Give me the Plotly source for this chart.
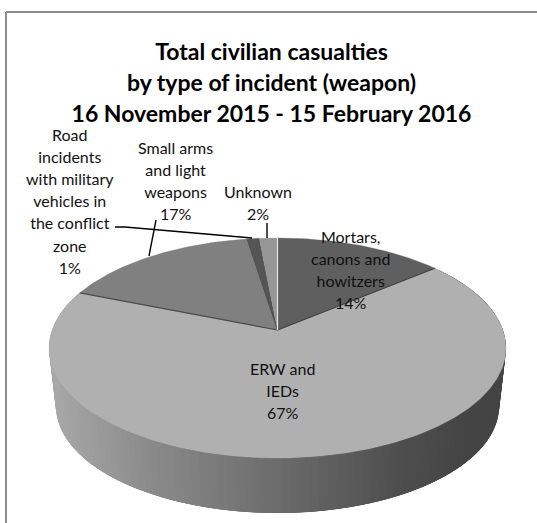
import math
import plotly.graph_objects as go

# ---- data (clockwise from 12 o'clock) ----
categories = ["Mortars, canons and howitzers", "ERW and IEDs", "Small arms and light weapons",
              "Road incidents with military vehicles in the conflict zone", "Unknown"]
values = [14.0, 67.0, 16.5, 1.0, 1.5]
percent_labels = ["14%", "67%", "17%", "1%", "2%"]
label_lines = [["Mortars,", "canons and", "howitzers"], ["ERW and", "IEDs"], ["Small arms", "and light", "weapons"],
               ["Road", "incidents", "with military", "vehicles in", "the conflict", "zone"], ["Unknown"]]
title_lines = ["Total civilian casualties", "by type of incident (weapon)", "16 November 2015 - 15 February 2016"]

# ---- styling and projection ----
top_colors = ["#5f5f5f", "#b0b0b0", "#808080", "#555555", "#969696"]
label_pos = [(350, 269), (282, 390), (175, 180), (70, 201), (258, 202)]
FONT = "Lato"
CX, CB, CA, CC, R = 277.5, 330.0, -53.1, 0.1636, 225.4
SCALE_B, Y_B = 0.97, 388.8


def project(theta_deg, r=1.0, bottom=False):
    t = math.radians(theta_deg)
    u, v = r * math.sin(t), r * math.cos(t)
    d = 1 + CC * v
    x, y = R * u / d, (CA * v + CB) / d
    if bottom:
        return CX + SCALE_B * x, Y_B + SCALE_B * (y - CB)
    return CX + x, y


def side_color(x):
    stops = [(51, 168), (150, 138), (277, 108), (400, 78), (470, 68), (510, 68)]
    for (x0, g0), (x1, g1) in zip(stops, stops[1:]):
        if x <= x1:
            g = round(g0 + (g1 - g0) * max(0, x - x0) / (x1 - x0))
            return f"rgb({g},{g},{g})"
    return "rgb(68,68,68)"


total = sum(values)
edges = [0.0]
for val in values:
    edges.append(edges[-1] + 360.0 * val / total)

fig = go.Figure()


def poly(xs, ys, color, lw=0.0):
    fig.add_trace(go.Scatter(x=xs, y=ys, mode="lines", fill="toself", fillcolor=color,
                             line=dict(color=color, width=lw), hoverinfo="skip", showlegend=False))


def seg(pts, color, w):
    fig.add_trace(go.Scatter(x=[p[0] for p in pts], y=[p[1] for p in pts], mode="lines",
                             line=dict(color=color, width=w), hoverinfo="skip", showlegend=False))


# outer wall of the large slice, as overlapping strips painted over each other for the gradient
a0, a1 = edges[1], edges[2]
n = 120
for i in range(n):
    t0, t1 = a0 + (a1 - a0) * i / n, a0 + (a1 - a0) * min(n, i + 4) / n
    tm = a0 + (a1 - a0) * (i + 0.5) / n
    p = [project(t0), project(tm), project(t1), project(t1, bottom=True), project(tm, bottom=True), project(t0, bottom=True)]
    poly([q[0] for q in p], [q[1] for q in p], side_color(project(tm)[0]), 0)

# top faces
for i in range(len(values)):
    steps = max(2, int(edges[i + 1] - edges[i]) * 2)
    arc = [project(edges[i] + (edges[i + 1] - edges[i]) * k / steps) for k in range(steps + 1)]
    apex = project(0, 0)
    pts = [apex] + arc + [apex]
    poly([q[0] for q in pts], [q[1] for q in pts], top_colors[i], 0.3)

# slice edges
apex = project(0, 0)
seg([project(edges[1]), apex], "#3c3c3c", 1.2)
seg([project(edges[2]), apex], "#4a4a4a", 1.2)
seg([apex, project(edges[3])], "#444444", 0.8)
seg([apex, project(0)], "#e6e6e6", 1.2)

annotations = []
for lines, pct, (x, y) in zip(label_lines, percent_labels, label_pos):
    body = "<br>".join(f'<span style="font-size:16px">{s}</span>' for s in lines + [pct])
    annotations.append(dict(x=x, y=y, xref="x", yref="y", text=body, showarrow=False, align="center",
                            xanchor="center", yanchor="middle", font=dict(family=FONT, size=17, color="#111111")))

shape_line = dict(color="#8c8c8c", width=2)
leader = dict(color="#000000", width=1.4)
shapes = [
    dict(type="line", x0=6, y0=12, x1=6, y1=523, line=shape_line),
    dict(type="line", x0=6, y0=12, x1=537, y1=12, line=shape_line),
    dict(type="path", path="M115,227 L125,227 L252,238", line=leader),
    dict(type="line", x0=156, y0=220, x1=149, y1=256, line=leader),
    dict(type="line", x0=267, y0=223, x1=267, y1=238, line=leader),
]

title_text = "<br>".join(f'<span style="font-size:23px">{s}</span>' for s in title_lines)
fig.update_layout(
    width=537, height=523, margin=dict(l=0, r=0, t=0, b=0), paper_bgcolor="white", plot_bgcolor="white",
    showlegend=False, shapes=shapes, annotations=annotations,
    title=dict(text=f"<b>{title_text}</b>", x=271.5 / 537, xanchor="center", y=1 - 60 / 523, yanchor="middle",
               font=dict(family=FONT, size=24, color="#000000")),
    xaxis=dict(range=[0, 537], visible=False, fixedrange=True),
    yaxis=dict(range=[523, 0], visible=False, fixedrange=True),
)
fig.write_html("out.html", config=dict(displayModeBar=False),
               post_script="document.body.style.margin='0';document.documentElement.style.overflow='hidden';")
